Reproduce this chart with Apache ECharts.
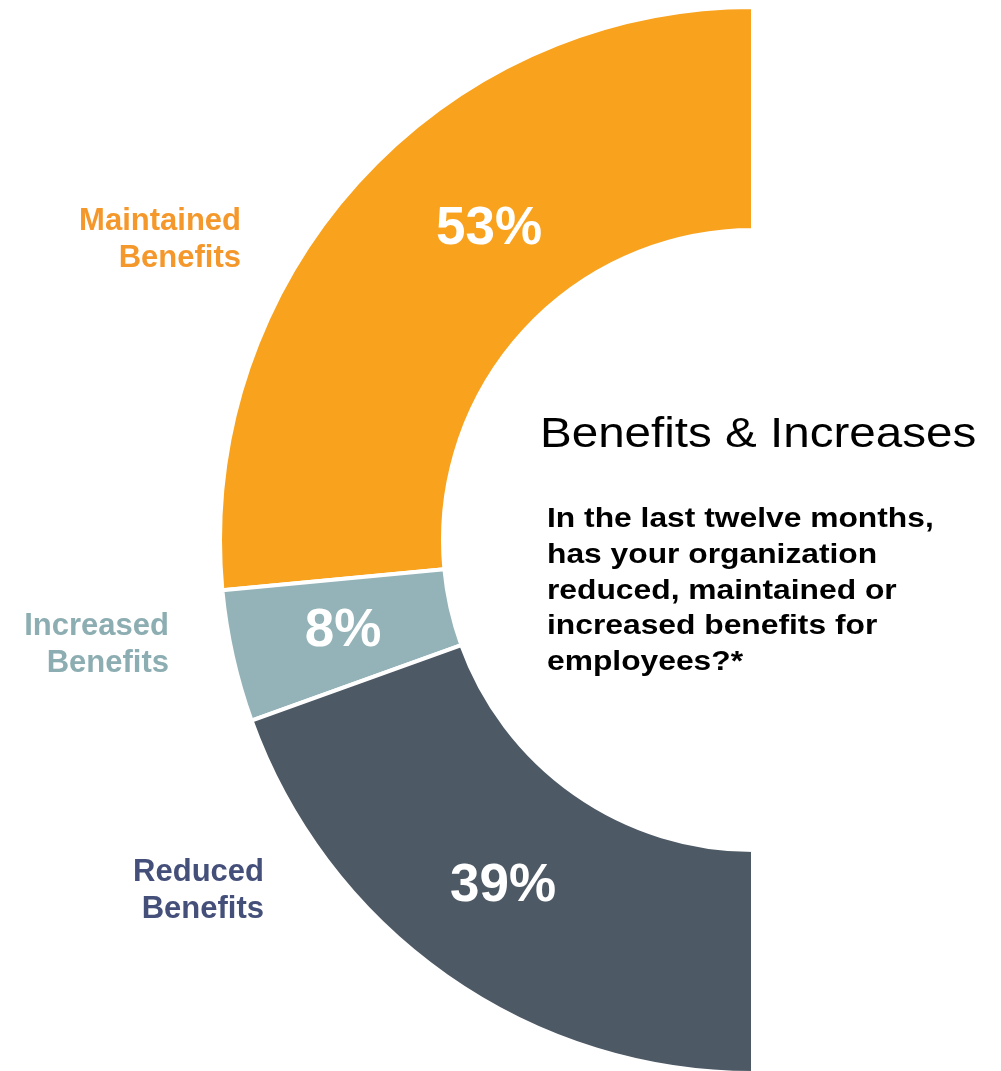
<!DOCTYPE html>
<html>
<head>
<meta charset="utf-8">
<title>Benefits & Increases</title>
<script src="https://cdn.jsdelivr.net/npm/echarts@6/dist/echarts.min.js"></script>
<style>
  html, body { margin: 0; padding: 0; background: #ffffff; }
  #chart { width: 1001px; height: 1071px; }
</style>
</head>
<body>
<div id="chart"></div>
<script>
// Survey answers (percent of organizations)
const categories = ['Maintained Benefits', 'Increased Benefits', 'Reduced Benefits'];
const shares = [53, 8, 39];

const titleText = 'Benefits & Increases';
const questionLines = [
  'In the last twelve months,',
  'has your organization',
  'reduced, maintained or',
  'increased benefits for',
  'employees?*'
];

// Styling
const sliceColors = ['#F8A21E', '#94B3B8', '#4D5965'];
const nameColors = ['#F5982C', '#8CADB1', '#45507A'];
const FONT = '"Liberation Sans", Arial, Helvetica, sans-serif';

// Anchor points for the percentage labels and the category names
const valueLabelAt = [[489, 229], [343, 631], [503, 886]];
const nameLabelAt = [[241, 240], [169, 645], [264, 891]];

const chart = echarts.init(document.getElementById('chart'), null, { renderer: 'canvas' });

const nameTexts = categories.map((c, i) => ({
  type: 'text',
  x: nameLabelAt[i][0],
  y: nameLabelAt[i][1],
  silent: true,
  style: {
    text: c.replace(' ', '\n'),
    font: 'bold 31px ' + FONT,
    fill: nameColors[i],
    align: 'right',
    verticalAlign: 'middle',
    lineHeight: 37
  }
}));

const option = {
  backgroundColor: '#ffffff',
  animation: false,
  series: [{
    type: 'pie',
    center: [753, 540],
    radius: [310, 533],
    startAngle: 90,
    endAngle: 270,
    clockwise: false,
    silent: true,
    itemStyle: { borderColor: '#ffffff', borderWidth: 4 },
    label: {
      show: true,
      position: 'inside',
      formatter: p => p.value + '%',
      color: '#ffffff',
      fontFamily: FONT,
      fontWeight: 'bold',
      fontSize: 53
    },
    labelLine: { show: false },
    labelLayout: p => ({
      x: valueLabelAt[p.dataIndex][0],
      y: valueLabelAt[p.dataIndex][1],
      align: 'center',
      verticalAlign: 'middle'
    }),
    data: categories.map((c, i) => ({
      name: c,
      value: shares[i],
      itemStyle: { color: sliceColors[i] }
    }))
  }],
  graphic: [
    {
      type: 'text',
      x: 540,
      y: 435,
      scaleX: 1.106,
      silent: true,
      style: {
        text: titleText,
        font: '43px ' + FONT,
        fill: '#000000',
        align: 'left',
        verticalAlign: 'middle'
      }
    },
    {
      type: 'text',
      x: 547,
      y: 591,
      scaleX: 1.135,
      silent: true,
      style: {
        text: questionLines.join('\n'),
        font: 'bold 28px ' + FONT,
        fill: '#000000',
        align: 'left',
        verticalAlign: 'middle',
        lineHeight: 35.7
      }
    }
  ].concat(nameTexts)
};

chart.setOption(option);
</script>
</body>
</html>
